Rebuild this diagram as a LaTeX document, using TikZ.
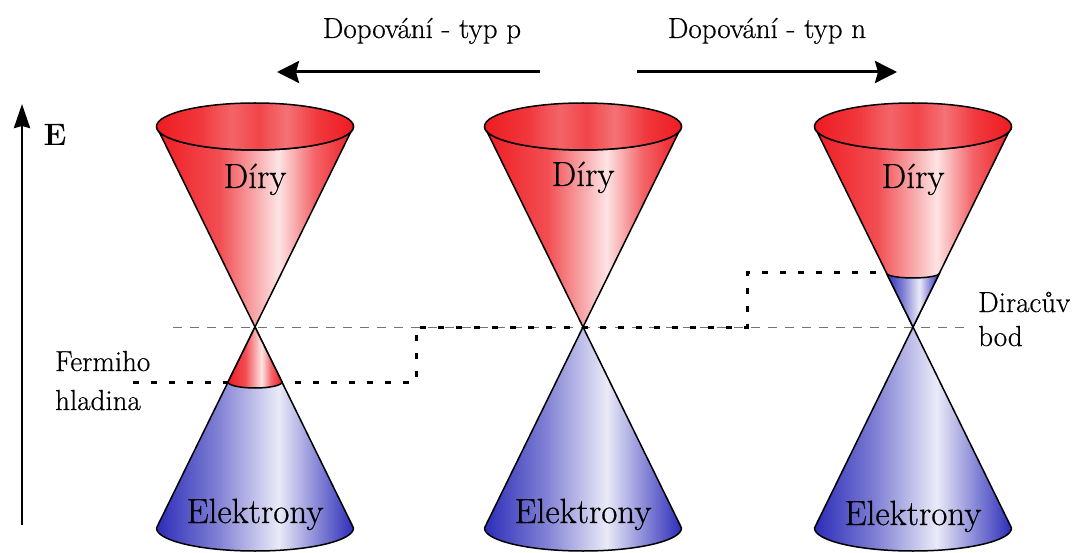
\documentclass[tikz,border=0pt]{standalone}
\usepackage{fontspec}
\setmainfont{Latin Modern Roman}[UprightFeatures={FakeBold=0.5}]
\usetikzlibrary{arrows.meta}

\definecolor{dirred}{RGB}{238,28,34}
\definecolor{dirblue}{RGB}{45,45,185}

%stinovani kuzelu (vodorovne)
\pgfdeclarehorizontalshading{cervena}{100bp}{color(0bp)=(dirred); color(25bp)=(dirred); color(41bp)=(dirred!78!white); color(56bp)=(white!88!dirred); color(65bp)=(dirred!68!white); color(75bp)=(dirred); color(100bp)=(dirred)}
\pgfdeclarehorizontalshading{vicko}{100bp}{color(0bp)=(dirred); color(25bp)=(dirred); color(36bp)=(dirred!88!white); color(44bp)=(dirred!68!white); color(51bp)=(dirred!82!white); color(58bp)=(dirred!62!white); color(66bp)=(dirred!88!white); color(75bp)=(dirred); color(100bp)=(dirred)}
\pgfdeclarehorizontalshading{modra}{100bp}{color(0bp)=(dirblue); color(25bp)=(dirblue); color(40bp)=(dirblue!62!white); color(56bp)=(white!90!dirblue); color(66bp)=(dirblue!58!white); color(75bp)=(dirblue); color(100bp)=(dirblue)}

\begin{document}
\begin{tikzpicture}[x=1pt,y=1pt,
	popis/.style={font=\fontsize{29}{34}\selectfont},
	kuzel/.style={font=\fontsize{35}{40}\selectfont},
	obrys/.style={draw=black,line width=1.5pt,line join=round},
	dirac/.style={draw=black!55,line width=1pt,dash pattern=on 9pt off 8pt},
	fermi/.style={draw=black,line width=3pt,dash pattern=on 6pt off 12pt},
	sipka/.style={line width=3pt,-{Stealth[length=22pt,width=22pt,inset=3pt]}}]

	\fill[white] (0,0) rectangle (1078,552);
	\useasboundingbox (0,0) rectangle (1078,552);

	%Osa energie
	\coordinate (E0) at (22,27);
	\coordinate (E1) at (22,448);
	\draw[line width=2.8pt,-{Stealth[length=24pt,width=16pt,inset=2pt]}] (E0) -- (E1);
	\node[font=\fontsize{31}{36}\selectfont\bfseries] (E) at (55,417) {E};

	%Sipky dopovani
	\coordinate (pS) at (540,480);
	\coordinate (pK) at (277,480);
	\coordinate (nS) at (637,480);
	\coordinate (nK) at (897,480);
	\draw[sipka] (pS) -- (pK);
	\draw[sipka] (nS) -- (nK);
	\node[popis,anchor=base] (typp) at (422,514) {Dopování - typ p};
	\node[popis,anchor=base] (typn) at (767,514) {Dopování - typ n};

	%Diracuv bod - carkovana cara
	\coordinate (D0) at (173,225);
	\coordinate (D1) at (967,225);
	\draw[dirac] (D0) -- (D1);

	%Fermiho hladina
	\coordinate (F0) at (133,170);
	\coordinate (F1) at (416,170);
	\coordinate (F2) at (416,225);
	\coordinate (F3) at (747,225);
	\coordinate (F4) at (747,279);
	\coordinate (F5) at (887,279);
	\draw[fermi] (F0) -- (F1) -- (F2) -- (F3) -- (F4) -- (F5);

	%%% Kuzel vlevo (typ p) %%%
	\shadedraw[shading=modra,obrys] (255,225) -- (156.5,24) arc[start angle=180,end angle=360,x radius=98.5,y radius=23] -- cycle;
	\shadedraw[shading=cervena,obrys] (255,225) -- (156.5,425.5) arc[start angle=180,end angle=360,x radius=98.5,y radius=23.5] -- cycle;
	\shadedraw[shading=vicko,obrys] (255,425.5) ellipse[x radius=98.5,y radius=23.5];
	%dirove pod Diracovym bodem
	\shadedraw[shading=cervena,obrys] (255,225) -- (228,170) arc[start angle=180,end angle=360,x radius=27,y radius=6] -- cycle;

	%%% Kuzel uprostred %%%
	\shadedraw[shading=modra,obrys] (583,225) -- (484.5,24) arc[start angle=180,end angle=360,x radius=98.5,y radius=23] -- cycle;
	\shadedraw[shading=cervena,obrys] (583,225) -- (484.5,425.5) arc[start angle=180,end angle=360,x radius=98.5,y radius=23.5] -- cycle;
	\shadedraw[shading=vicko,obrys] (583,425.5) ellipse[x radius=98.5,y radius=23.5];

	%%% Kuzel vpravo (typ n) %%%
	\shadedraw[shading=modra,obrys] (913,225) -- (814.5,24) arc[start angle=180,end angle=360,x radius=98.5,y radius=23] -- cycle;
	\shadedraw[shading=cervena,obrys] (913,225) -- (814.5,425.5) arc[start angle=180,end angle=360,x radius=98.5,y radius=23.5] -- cycle;
	\shadedraw[shading=vicko,obrys] (913,425.5) ellipse[x radius=98.5,y radius=23.5];
	%elektrony nad Diracovym bodem
	\shadedraw[shading=modra,obrys] (913,225) -- (886.4,279) arc[start angle=180,end angle=360,x radius=26.6,y radius=5] -- cycle;

	%Popisky kuzelu
	\node[kuzel,anchor=base] (d1) at (255,364) {Díry};
	\node[kuzel,anchor=base] (d2) at (583,366) {Díry};
	\node[kuzel,anchor=base] (d3) at (913,364) {Díry};
	\node[kuzel,anchor=base] (e1) at (255,29) {Elektrony};
	\node[kuzel,anchor=base] (e2) at (583,29) {Elektrony};
	\node[kuzel,anchor=base] (e3) at (913,27) {Elektrony};

	\node[popis,anchor=base west,inner sep=0pt] (f1) at (55,181) {Fermiho};
	\node[popis,anchor=base west,inner sep=0pt] (f2) at (55,142) {hladina};
	\node[popis,anchor=base west,inner sep=0pt] (b1) at (978,240) {Diracův};
	\node[popis,anchor=base west,inner sep=0pt] (b2) at (978,206) {bod};

\end{tikzpicture}
\end{document}
